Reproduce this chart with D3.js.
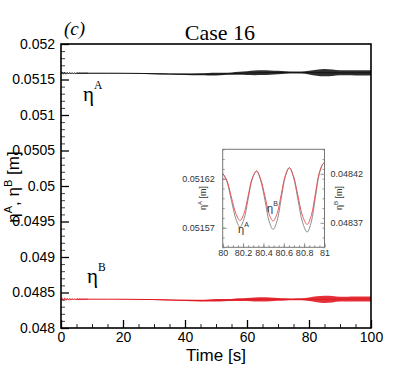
<!DOCTYPE html>
<html><head><meta charset="utf-8">
<script src="https://cdn.jsdelivr.net/npm/d3@7"></script>
<style>body{margin:0;background:#fff}</style>
</head><body>
<svg id="c" width="415" height="369"></svg>
<script>
// ---- main chart data (envelope of the fast oscillation) ----
const timeEnv=[0,5,10,15,20,25,30,35,40,45,47.5,50,52.5,55,57.5,60,62.5,65,67.5,70,72.5,75,77.5,80,82.5,85,87.5,90,92.5,95,97.5,100];
const meanA=[0.051589,0.051589,0.051589,0.051589,0.051588,0.051586,0.051581,0.051577,0.051574,0.051573,0.051574,0.051576,0.051579,0.051583,0.051587,0.051591,0.051594,0.051596,0.051597,0.051598,0.051599,0.051599,0.051598,0.051597,0.051596,0.051596,0.051595,0.051595,0.051594,0.051594,0.051594,0.051594];
const halfA=[0.0000042,0.0000042,0.0000028,0.0000028,0.0000028,0.0000042,0.0000056,0.000007,0.0000099,0.0000141,0.0000169,0.0000183,0.0000169,0.0000169,0.0000211,0.0000268,0.0000324,0.0000338,0.000031,0.000024,0.0000183,0.0000141,0.0000141,0.0000254,0.0000423,0.0000507,0.0000451,0.0000352,0.0000352,0.0000366,0.0000366,0.0000366];
const meanB=[0.048406,0.048406,0.048406,0.048406,0.048405,0.048403,0.048400,0.048395,0.048390,0.048386,0.048387,0.048390,0.048393,0.048396,0.048399,0.048401,0.048403,0.048404,0.048404,0.048404,0.048404,0.048404,0.048404,0.048404,0.048404,0.048404,0.048405,0.048406,0.048407,0.048408,0.048408,0.048408];
const halfB=[0.0000042,0.0000042,0.0000028,0.0000028,0.0000028,0.0000042,0.0000056,0.000007,0.0000085,0.0000113,0.0000141,0.0000169,0.0000155,0.0000141,0.0000183,0.0000211,0.0000282,0.0000296,0.0000268,0.0000197,0.0000155,0.0000127,0.0000141,0.0000254,0.0000423,0.0000507,0.0000451,0.0000338,0.0000338,0.0000352,0.0000352,0.0000352];
// start-up wiggles
const wiggleT=[0,0.4,0.8,1.2,1.6,2.0,2.4,2.8,3.2,3.6,4.0,4.4,4.8,5.2,5.6,6.0,6.4,6.8,7.2,7.6,8.0,8.4,8.8];
const wiggleA=[0.051589,0.051604,0.051574,0.051605,0.051575,0.051603,0.051577,0.051601,0.051579,0.051599,0.051580,0.051597,0.051582,0.051595,0.051584,0.051594,0.051585,0.051593,0.051586,0.051591,0.051588,0.051590,0.051589];
const wiggleB=[0.048406,0.048424,0.048388,0.048425,0.048389,0.048422,0.048391,0.048420,0.048393,0.048418,0.048395,0.048415,0.048397,0.048414,0.048399,0.048412,0.048400,0.048411,0.048402,0.048409,0.048404,0.048407,0.048406];
const yTicks=[0.048,0.0485,0.049,0.0495,0.05,0.0505,0.051,0.0515,0.052];
const yTickLabels=["0.048","0.0485","0.049","0.0495","0.05","0.0505","0.051","0.0515","0.052"];
const xTicks=[0,20,40,60,80,100];
const xTickLabels=["0","20","40","60","80","100"];
// ---- inset data ----
const insetT=[80.0,80.04,80.085,80.13,80.17,80.21,80.25,80.29,80.333,80.37,80.415,80.455,80.495,80.535,80.575,80.615,80.655,80.695,80.74,80.785,80.83,80.87,80.91,80.95,80.99,81.0];
const insetA=[0.0516255,0.0516175,0.0515981,0.0515787,0.0515707,0.0515791,0.0515993,0.0516195,0.0516279,0.0516192,0.0515981,0.0515769,0.0515682,0.0515774,0.0515997,0.0516220,0.0516312,0.0516216,0.0515984,0.0515752,0.0515656,0.0515758,0.0516007,0.0516255,0.0516357,0.0516352];
const insetB=[0.0484205,0.0484135,0.0483964,0.0483793,0.0483723,0.0483797,0.0483976,0.0484154,0.0484228,0.0484154,0.0483973,0.0483792,0.0483718,0.0483797,0.0483990,0.0484183,0.0484262,0.0484177,0.0483973,0.0483768,0.0483683,0.0483774,0.0483995,0.0484216,0.0484307,0.0484303];
const insetXTicks=[80,80.2,80.4,80.6,80.8,81];
const insetXTickLabels=["80","80.2","80.4","80.6","80.8","81"];
const insetLTicks=[0.05157,0.05162];
const insetLTickLabels=["0.05157","0.05162"];
const insetRTicks=[0.04837,0.04842];
const insetRTickLabels=["0.04837","0.04842"];

const svg=d3.select("#c");
const SANS="'Liberation Sans', Arial, sans-serif";
const SERIF="'Liberation Serif', 'Times New Roman', serif";
const L=61,R=371,T=44,B=328;
const x=d3.scaleLinear([0,100],[L,R]);
const y=d3.scaleLinear([0.048,0.052],[B,T]);

// minor ticks
const yMinor=d3.range(0,41).map(i=>0.048+i*0.0001).filter((v,i)=>i%5!==0);
const xMinor=d3.range(0,21).map(i=>i*5).filter(v=>v%20!==0);
const gYm=svg.append("g").attr("transform",`translate(${L},0)`)
  .call(d3.axisLeft(y).tickValues(yMinor).tickSize(-4).tickFormat(""));
gYm.select(".domain").remove();
gYm.selectAll("line").attr("stroke","#444");
const gXm=svg.append("g").attr("transform",`translate(0,${B})`)
  .call(d3.axisBottom(x).tickValues(xMinor).tickSize(-4).tickFormat(""));
gXm.select(".domain").remove();
gXm.selectAll("line").attr("stroke","#222");

const gY=svg.append("g").attr("transform",`translate(${L},0)`)
  .call(d3.axisLeft(y).tickValues(yTicks).tickSize(-8).tickPadding(6).tickFormat((d,i)=>yTickLabels[i]));
gY.select(".domain").remove();
gY.selectAll("line").attr("stroke","#000").attr("stroke-width",1.3);
gY.selectAll("text").attr("font-family",SANS).attr("font-size",14).attr("fill","#000");
const gX=svg.append("g").attr("transform",`translate(0,${B})`)
  .call(d3.axisBottom(x).tickValues(xTicks).tickSize(-8).tickPadding(4).tickFormat((d,i)=>xTickLabels[i]));
gX.select(".domain").remove();
gX.selectAll("line").attr("stroke","#000").attr("stroke-width",1.3);
gX.selectAll("text").attr("font-family",SANS).attr("font-size",14).attr("fill","#000").attr("dy","0.71em");

// series
function drawSeries(mean,half,wt,wv,color){
  const env=timeEnv.map((t,i)=>({t,m:mean[i],h:half[i]}));
  svg.append("path").datum(env)
    .attr("d",d3.area().x(d=>x(d.t)).y0(d=>y(d.m-d.h)).y1(d=>y(d.m+d.h)).curve(d3.curveMonotoneX))
    .attr("fill",color).attr("opacity",0.88);
  svg.append("path").datum(wt.map((t,i)=>({t,v:wv[i]})))
    .attr("d",d3.line().x(d=>x(d.t)).y(d=>y(d.v)))
    .attr("fill","none").attr("stroke",color).attr("stroke-width",0.7);
  const pts=env.filter(d=>d.t>=5).map(d=>({t:d.t,v:d.m}));
  pts.unshift({t:wt[wt.length-1],v:wv[wv.length-1]});
  svg.append("path").datum(pts.sort((a,b)=>a.t-b.t))
    .attr("d",d3.line().x(d=>x(d.t)).y(d=>y(d.v)).curve(d3.curveMonotoneX))
    .attr("fill","none").attr("stroke",color).attr("stroke-width",0.9);
}
drawSeries(meanA,halfA,wiggleT,wiggleA,"#111");
drawSeries(meanB,halfB,wiggleT,wiggleB,"#e0141e");

// frame
svg.append("rect").attr("x",L).attr("y",T).attr("width",R-L).attr("height",B-T)
  .attr("fill","none").attr("stroke","#000").attr("stroke-width",1.6);

// titles
svg.append("text").attr("x",64).attr("y",35).attr("font-family",SERIF).attr("font-style","italic")
  .attr("font-size",19).text("(c)");
svg.append("text").attr("x",220).attr("y",40).attr("text-anchor","middle").attr("font-family",SERIF)
  .attr("font-size",22).text("Case 16");
svg.append("text").attr("x",216).attr("y",361).attr("text-anchor","middle").attr("font-family",SANS)
  .attr("font-size",17).text("Time [s]");
const yl=svg.append("text").attr("transform","translate(19,187) rotate(-90)").attr("text-anchor","middle")
  .attr("font-family",SANS).attr("font-size",17);
yl.append("tspan").text("η");
yl.append("tspan").attr("font-size",11).attr("dy",-7).text("A");
yl.append("tspan").attr("dy",7).text(", η");
yl.append("tspan").attr("font-size",11).attr("dy",-7).text("B");
yl.append("tspan").attr("dy",7).text(" [m]");

function etaLabel(px,py,sup,fs,fam){
  const t=svg.append("text").attr("x",px).attr("y",py).attr("font-family",fam).attr("font-size",fs);
  t.append("tspan").text("η");
  t.append("tspan").attr("font-size",fs*0.55).attr("dy",-fs*0.55).text(sup);
}
etaLabel(83,101,"A",21,SERIF);
etaLabel(87,283,"B",21,SERIF);

// ---- inset ----
const iL=222.7,iR=324.5,iT=149.3,iB=247.3;
const ix=d3.scaleLinear([80,81],[iL,iR]);
const iyL=d3.scaleLinear([0.05155,0.05165],[iB,iT]);
const iyR=d3.scaleLinear([0.048345,0.048445],[iB,iT]);
svg.append("rect").attr("x",iL).attr("y",iT).attr("width",iR-iL).attr("height",iB-iT).attr("fill","#fff");
const IC="#777";
function insetAxis(axis,tr,vals,size,labels){
  const g=svg.append("g").attr("transform",tr).call(axis.tickValues(vals).tickSize(size).tickPadding(3)
    .tickFormat(labels?((d,i)=>labels[i]):""));
  g.select(".domain").remove();
  g.selectAll("line").attr("stroke",IC).attr("stroke-width",0.8);
  g.selectAll("text").attr("font-family",SANS).attr("font-size",9).attr("fill","#333");
  return g;
}
const iLMinor=d3.range(0,11).map(i=>0.05155+i*0.00001);
const iRMinor=d3.range(0,11).map(i=>0.048345+i*0.00001);
const iXMinor=d3.range(0,21).map(i=>80+i*0.05);
insetAxis(d3.axisLeft(iyL),`translate(${iL},0)`,iLMinor,-2,null);
insetAxis(d3.axisRight(iyR),`translate(${iR},0)`,iRMinor,-2,null);
insetAxis(d3.axisBottom(ix),`translate(0,${iB})`,iXMinor,-2,null);
insetAxis(d3.axisLeft(iyL),`translate(${iL},0)`,insetLTicks,-4,insetLTickLabels).selectAll("text").attr("x",-8);
insetAxis(d3.axisRight(iyR),`translate(${iR},0)`,insetRTicks,-4,insetRTickLabels).selectAll("text").attr("x",6);
insetAxis(d3.axisBottom(ix),`translate(0,${iB})`,insetXTicks,-4,insetXTickLabels).selectAll("text").attr("y",2).attr("dy","0.71em");

const iA=insetT.map((t,i)=>({t,v:insetA[i]}));
const iBd=insetT.map((t,i)=>({t,v:insetB[i]}));
svg.append("path").datum(iA).attr("d",d3.line().x(d=>ix(d.t)).y(d=>iyL(d.v)).curve(d3.curveCatmullRom))
  .attr("fill","none").attr("stroke","#808080").attr("stroke-width",0.9);
svg.append("path").datum(iBd).attr("d",d3.line().x(d=>ix(d.t)).y(d=>iyR(d.v)).curve(d3.curveCatmullRom))
  .attr("fill","none").attr("stroke","#e8484e").attr("stroke-width",0.9);
svg.append("rect").attr("x",iL).attr("y",iT).attr("width",iR-iL).attr("height",iB-iT)
  .attr("fill","none").attr("stroke",IC).attr("stroke-width",1);

function insetEta(px,py,sup){
  const t=svg.append("text").attr("x",px).attr("y",py).attr("font-family",SANS).attr("font-size",11).attr("fill","#333");
  t.append("tspan").text("η");
  t.append("tspan").attr("font-size",7).attr("dy",-6).text(sup);
}
insetEta(238,233,"A");
insetEta(267,212,"B");
// inset axis titles
function insetYTitle(cx,cy,sup){
  const t=svg.append("text").attr("transform",`translate(${cx},${cy}) rotate(-90)`).attr("text-anchor","middle")
    .attr("font-family",SANS).attr("font-size",9).attr("fill","#333");
  t.append("tspan").text("η");
  t.append("tspan").attr("font-size",6).attr("dy",-4).text(sup);
  t.append("tspan").attr("dy",4).text(" [m]");
}
insetYTitle(206,198,"A");
insetYTitle(342,198,"B");
</script>
</body></html>
